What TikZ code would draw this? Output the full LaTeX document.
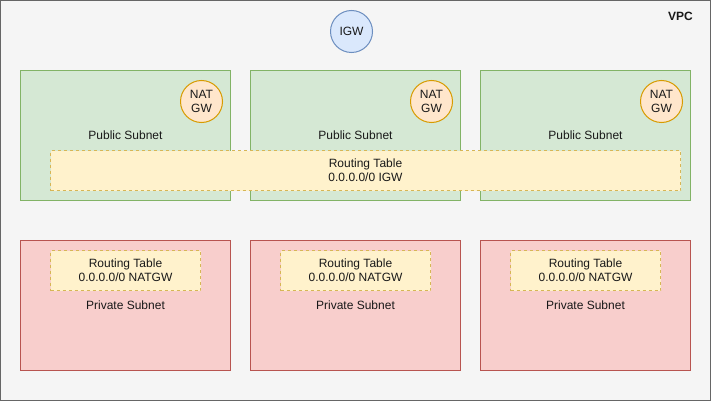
\documentclass[tikz,border=0pt]{standalone}
\usepackage{fontspec}
\setmainfont{Liberation Sans}
\usetikzlibrary{positioning}
\definecolor{vpcfill}{HTML}{F5F5F5}
\definecolor{vpcline}{HTML}{666666}
\definecolor{pubfill}{HTML}{D5E8D4}
\definecolor{publine}{HTML}{82B366}
\definecolor{prvfill}{HTML}{F8CECC}
\definecolor{prvline}{HTML}{B85450}
\definecolor{rtfill}{HTML}{FFF2CC}
\definecolor{rtline}{HTML}{D6B656}
\definecolor{natfill}{HTML}{FFE6CC}
\definecolor{natline}{HTML}{D79B00}
\definecolor{igwfill}{HTML}{DAE8FC}
\definecolor{igwline}{HTML}{6C8EBF}
\tikzset{every node/.style={font=\fontsize{12}{14}\selectfont,align=center,inner sep=0pt,outer sep=0pt,text=black!90}}
\tikzset{public/.style={draw=publine,fill=pubfill,line width=1pt,minimum width=210pt,minimum height=130pt}}
\tikzset{private/.style={draw=prvline,fill=prvfill,line width=1pt,minimum width=210pt,minimum height=130pt}}
\tikzset{rtable/.style={draw=rtline,fill=rtfill,dashed,line width=1pt,minimum height=40pt}}
\tikzset{natgw/.style={circle,draw=natline,fill=natfill,line width=1pt,minimum size=42pt}}
\tikzset{igw/.style={circle,draw=igwline,fill=igwfill,line width=1pt,minimum size=42pt}}

\begin{document}
\begin{tikzpicture}[x=1pt,y=-1pt]
	\useasboundingbox (-0.5,-0.5) rectangle (710.5,400.5);
	\draw node [draw=vpcline,fill=vpcfill,line width=1pt,minimum width=709pt,minimum height=399pt] (vpc) at (355,200) {};
	\draw node [font=\fontsize{12}{14}\selectfont\bfseries] (vpcl) at (680,16) {VPC};
	\draw node [igw] (igw) at (351,31) {IGW};

	\draw node [public] (pub1) at (125,135) {};
	\draw node [public,right=20pt of pub1] (pub2) {};
	\draw node [public,right=20pt of pub2] (pub3) {};
	\draw node (pub1l) at (125,135) {Public Subnet};
	\draw node (pub2l) at (355,135) {Public Subnet};
	\draw node (pub3l) at (585,135) {Public Subnet};
	\draw node [natgw] (nat1) at (201,101) {NAT\\GW};
	\draw node [natgw] (nat2) at (431,101) {NAT\\GW};
	\draw node [natgw] (nat3) at (661,101) {NAT\\GW};
	\draw node [rtable,minimum width=630pt] (rtpub) at (365,170) {Routing Table\\0.0.0.0/0 IGW};

	\draw node [private,below=40pt of pub1] (prv1) {};
	\draw node [private,below=40pt of pub2] (prv2) {};
	\draw node [private,below=40pt of pub3] (prv3) {};
	\draw node [rtable,minimum width=150pt] (rt1) at (125,270) {Routing Table\\0.0.0.0/0 NATGW};
	\draw node [rtable,minimum width=150pt] (rt2) at (355,270) {Routing Table\\0.0.0.0/0 NATGW};
	\draw node [rtable,minimum width=150pt] (rt3) at (585,270) {Routing Table\\0.0.0.0/0 NATGW};
	\draw node (prv1l) at (125,305) {Private Subnet};
	\draw node (prv2l) at (355,305) {Private Subnet};
	\draw node (prv3l) at (585,305) {Private Subnet};
\end{tikzpicture}
\end{document}
